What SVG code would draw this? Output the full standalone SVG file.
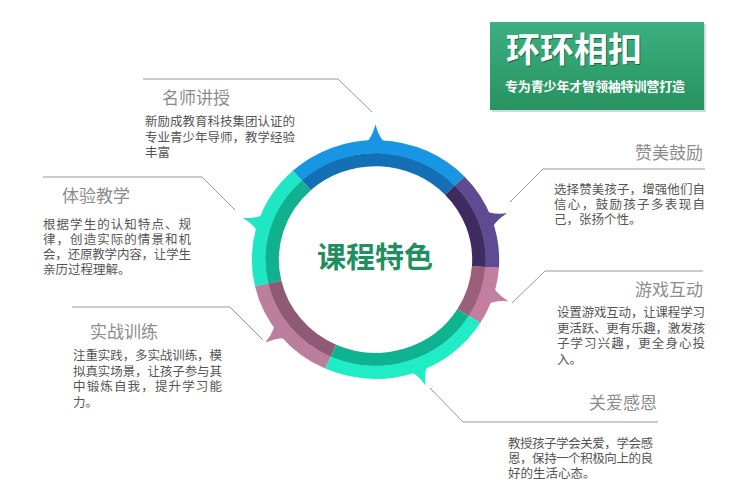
<svg xmlns="http://www.w3.org/2000/svg" width="735" height="502" viewBox="0 0 735 502">
<defs>
<linearGradient id="gTitle" x1="0" y1="0" x2="0" y2="1">
<stop offset="0" stop-color="#3daf80"/>
<stop offset="1" stop-color="#269360"/>
</linearGradient>
<path id="spike" d="M -13 5 Q -4 -1 0 -17 Q 4 -1 13 5 Z"/>
</defs>
<style>
text{font-family:"Liberation Sans","Noto Sans CJK SC",sans-serif}
.hd{font-size:17px;fill:#8c8c8c}
.bd{font-size:12.5px;fill:#555}
.ln{fill:none;stroke:#9a9a9a;stroke-width:1}
.o{fill:none;stroke-width:13.5}
.i{fill:none;stroke-width:13.5}
</style>
<rect width="735" height="502" fill="#ffffff"/>

<g id="title">
<rect x="492" y="24" width="214" height="88" fill="#d8d8d8"/>
<rect x="490" y="22" width="214" height="88" fill="url(#gTitle)"/>
<text x="507" y="63" font-size="34" font-weight="bold" fill="#1a6a45">环环相扣</text>
<text x="506" y="62" font-size="34" font-weight="bold" fill="#ffffff">环环相扣</text>
<text x="505" y="91" font-size="13" font-weight="bold" fill="#ffffff" textLength="180" lengthAdjust="spacing">专为青少年才智领袖特训营打造</text>
</g>

<g id="ring" transform="translate(375.5 259.5) scale(1.02 0.985) translate(-375.5 -259)">
<path class="i" stroke="#1470b5" d="M 448.51 188.49 A 101.5 101.5 0 0 0 307.59 183.58"/>
<path class="o" stroke="#1896e4" d="M 457.86 179.46 A 114.5 114.5 0 0 0 298.89 173.92"/>
<path class="i" stroke="#11b08f" d="M 307.59 183.58 A 101.5 101.5 0 0 0 276.60 281.84"/>
<path class="o" stroke="#1fe7c3" d="M 298.89 173.92 A 114.5 114.5 0 0 0 263.93 284.76"/>
<path class="i" stroke="#8f5b74" d="M 276.60 281.84 A 101.5 101.5 0 0 0 334.22 351.72"/>
<path class="o" stroke="#bb7e9c" d="M 263.93 284.76 A 114.5 114.5 0 0 0 328.93 363.60"/>
<path class="i" stroke="#10b391" d="M 334.22 351.72 A 101.5 101.5 0 0 0 461.57 312.78"/>
<path class="o" stroke="#20ecc6" d="M 328.93 363.60 A 114.5 114.5 0 0 0 472.60 319.67"/>
<path class="i" stroke="#9c5f79" d="M 461.57 312.78 A 101.5 101.5 0 0 0 476.76 266.08"/>
<path class="o" stroke="#c27fa0" d="M 472.60 319.67 A 114.5 114.5 0 0 0 489.72 266.99"/>
<path class="i" stroke="#3e2b5f" d="M 476.76 266.08 A 101.5 101.5 0 0 0 448.51 188.49"/>
<path class="o" stroke="#5f4b91" d="M 489.72 266.99 A 114.5 114.5 0 0 0 457.86 179.46"/>
<use href="#spike" fill="#1896e4" transform="translate(375.5,259) rotate(0) translate(0,-120)"/>
<use href="#spike" fill="#1fe7c3" transform="translate(375.5,259) rotate(-72) translate(0,-120)"/>
<use href="#spike" fill="#5f4b91" transform="translate(375.5,259) rotate(70) translate(0,-120)"/>
<use href="#spike" fill="#c27fa0" transform="translate(375.5,259) rotate(108) translate(0,-120)"/>
<use href="#spike" fill="#20ecc6" transform="translate(375.5,259) rotate(159) translate(0,-120)"/>
<use href="#spike" fill="#bb7e9c" transform="translate(375.5,259) rotate(-128) translate(0,-120)"/>
</g>
<text x="375" y="268" font-size="29" font-weight="bold" fill="#1f8f5f" text-anchor="middle">课程特色</text>

<g id="connectors">
<polyline class="ln" points="143,79 338,79 372,112"/>
<polyline class="ln" points="43,177 202,177 235,210"/>
<polyline class="ln" points="72,307 230,307 263,340"/>
<polyline class="ln" points="510,202 543,169 705,169"/>
<polyline class="ln" points="512,303 545,271 703,271"/>
<polyline class="ln" points="430,388 463,422 658,422"/>
</g>

<g id="n1">
<text class="hd" x="162" y="104">名师讲授</text>
<text class="bd" x="145" y="126" textLength="150" lengthAdjust="spacing">新励成教育科技集团认证的</text>
<text class="bd" x="145" y="141.5" textLength="150" lengthAdjust="spacing">专业青少年导师，教学经验</text>
<text class="bd" x="145" y="157">丰富</text>
</g>

<g id="n2">
<text class="hd" x="62" y="202">体验教学</text>
<text class="bd" x="43" y="229" textLength="148" lengthAdjust="spacing">根据学生的认知特点、规</text>
<text class="bd" x="43" y="244" textLength="148" lengthAdjust="spacing">律，创造实际的情景和机</text>
<text class="bd" x="43" y="259" textLength="148" lengthAdjust="spacing">会，还原教学内容，让学生</text>
<text class="bd" x="43" y="274">亲历过程理解。</text>
</g>

<g id="n3">
<text class="hd" x="90" y="338">实战训练</text>
<text class="bd" x="73" y="360" textLength="149" lengthAdjust="spacing">注重实践，多实战训练，模</text>
<text class="bd" x="73" y="375.5" textLength="149" lengthAdjust="spacing">拟真实场景，让孩子参与其</text>
<text class="bd" x="73" y="391" textLength="149" lengthAdjust="spacing">中锻炼自我，提升学习能</text>
<text class="bd" x="73" y="406.5">力。</text>
</g>

<g id="n4">
<text class="hd" x="703" y="159" text-anchor="end">赞美鼓励</text>
<text class="bd" x="554" y="194" textLength="151" lengthAdjust="spacing">选择赞美孩子，增强他们自</text>
<text class="bd" x="554" y="209" textLength="151" lengthAdjust="spacing">信心，鼓励孩子多表现自</text>
<text class="bd" x="554" y="224">己，张扬个性。</text>
</g>

<g id="n5">
<text class="hd" x="703" y="296" text-anchor="end">游戏互动</text>
<text class="bd" x="557" y="317" textLength="148" lengthAdjust="spacing">设置游戏互动，让课程学习</text>
<text class="bd" x="557" y="332.5" textLength="148" lengthAdjust="spacing">更活跃、更有乐趣，激发孩</text>
<text class="bd" x="557" y="348" textLength="148" lengthAdjust="spacing">子学习兴趣，更全身心投</text>
<text class="bd" x="557" y="363.5">入。</text>
</g>

<g id="n6">
<text class="hd" x="657" y="409" text-anchor="end">关爱感恩</text>
<text class="bd" x="508" y="448" textLength="145" lengthAdjust="spacing">教授孩子学会关爱，学会感</text>
<text class="bd" x="508" y="463" textLength="145" lengthAdjust="spacing">恩，保持一个积极向上的良</text>
<text class="bd" x="508" y="478">好的生活心态。</text>
</g>
</svg>
